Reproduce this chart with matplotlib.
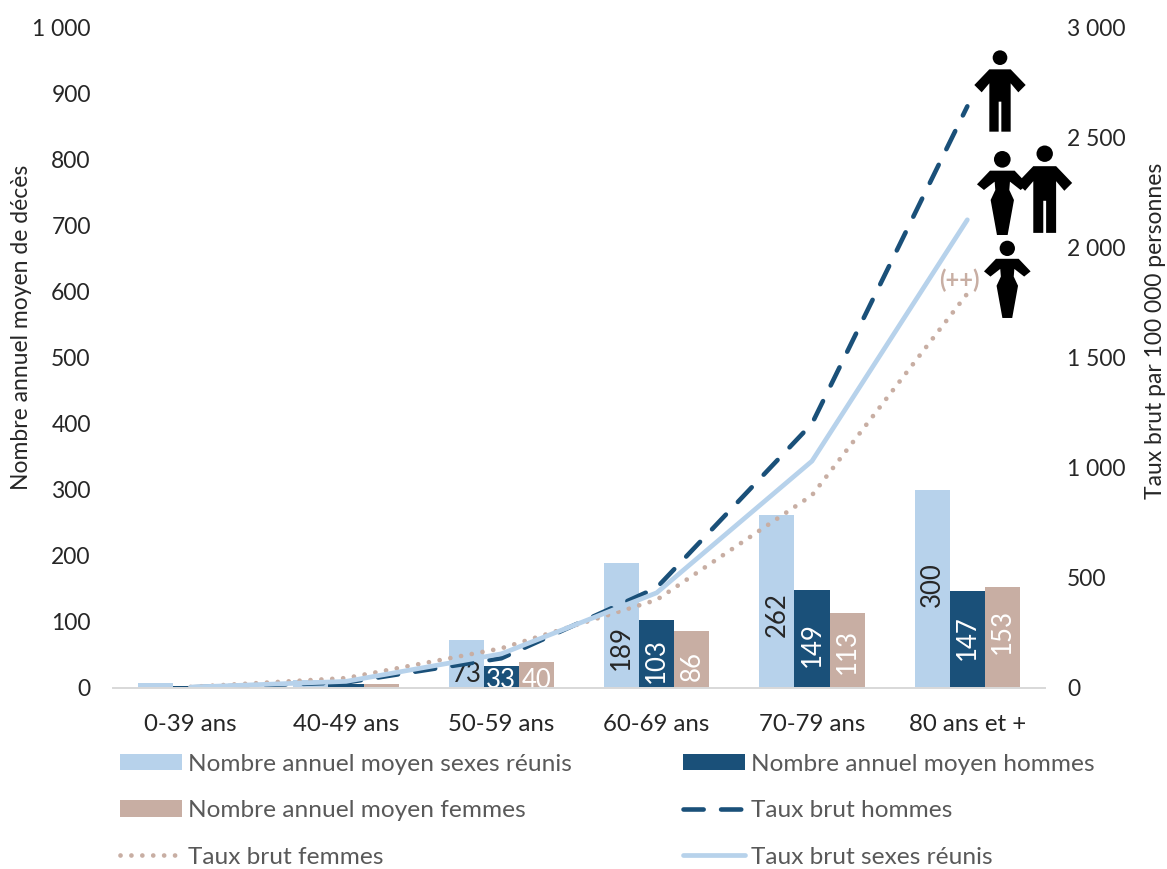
import matplotlib
matplotlib.use("Agg")
import matplotlib.pyplot as plt
from matplotlib.patches import Circle, Polygon
import numpy as np

plt.rcParams['font.family'] = ['Lato', 'DejaVu Sans']

# Data
age_groups = ['0-39 ans', '40-49 ans', '50-59 ans', '60-69 ans', '70-79 ans', '80 ans et +']
deaths_all = [8, 12, 73, 189, 262, 300]
deaths_men = [3, 6, 33, 103, 149, 147]
deaths_women = [1, 6, 40, 86, 113, 153]
rate_men = [3, 25, 135, 455, 1200, 2640]
rate_women = [5, 45, 180, 400, 875, 1790]
rate_all = [4, 30, 155, 432, 1030, 2125]
left_ticks = range(0, 1001, 100)
right_ticks = range(0, 3001, 500)

# Height of each value label's centre above the baseline, in pixels
label_lift_all = [0, 0, 14, 41, 73, 103]
label_lift_men = [0, 0, 8, 27, 43, 50]
label_lift_women = [0, 0, 8, 22, 36, 56]

LIGHT = '#b7d2eb'
NAVY = '#1a5079'
TAN = '#c8aea3'
TEXT = '#262626'
LEGEND_TEXT = '#595959'

W, H = 1167, 869
fig = plt.figure(figsize=(W / 100, H / 100), dpi=100)

# Plot area in pixels
left, right, top, bottom = 113, 1045, 27, 688
ax = fig.add_axes([left / W, 1 - bottom / H, (right - left) / W, (bottom - top) / H])
ax2 = ax.twinx()

x = np.arange(len(age_groups))
bw = 0.226
ax.bar(x - bw, deaths_all, bw, color=LIGHT, label='Nombre annuel moyen sexes réunis')
ax.bar(x, deaths_men, bw, color=NAVY, label='Nombre annuel moyen hommes')
ax.bar(x + bw, deaths_women, bw, color=TAN, label='Nombre annuel moyen femmes')

ax2.plot(x, rate_men, color=NAVY, lw=3.3, ls=(0, (4.4, 3.8)), dash_capstyle='round', label='Taux brut hommes')
ax2.plot(x, rate_women, color=TAN, lw=3.4, ls=(0, (0.01, 2.3)), dash_capstyle='round', label='Taux brut femmes')
ax2.plot(x, rate_all, color=LIGHT, lw=3.4, solid_capstyle='round', label='Taux brut sexes réunis')

# Value labels inside the bars; the three smallest groups stay upright
series = [(-bw, deaths_all, label_lift_all, TEXT),
          (0, deaths_men, label_lift_men, 'white'),
          (bw, deaths_women, label_lift_women, 'white')]
for offs, vals, lifts, col in series:
    for xi, v, lift in zip(x, vals, lifts):
        if v < 30:
            continue
        rot = 90 if v > 80 else 0
        ax.annotate(str(v), (xi + offs, 0), xytext=(0, lift * 0.72), textcoords='offset points',
                    rotation=rot, ha='center', va='center', fontsize=18.5, color=col)

ax.set_xlim(-0.5, 5.5)
ax.set_ylim(0, 1000)
ax2.set_ylim(0, 3000)
ax.set_xticks(x, age_groups)
ax.set_yticks(list(left_ticks), [f'{v:,}'.replace(',', ' ') for v in left_ticks])
ax2.set_yticks(list(right_ticks), [f'{v:,}'.replace(',', ' ') for v in right_ticks])

for a in (ax, ax2):
    for side in ('top', 'left', 'right'):
        a.spines[side].set_visible(False)
    a.spines['bottom'].set_color('#d9d9d9')
    a.spines['bottom'].set_linewidth(1.3)
ax.tick_params(axis='x', length=0, labelsize=17.3, labelcolor=TEXT, pad=18.5)
ax.tick_params(axis='y', length=0, labelsize=16.5, labelcolor=TEXT, pad=16)
ax2.tick_params(axis='y', length=0, labelsize=16.5, labelcolor=TEXT, pad=16)

fig.text(22 / W, 1 - 327 / H, 'Nombre annuel moyen de décès', rotation=90, ha='center', va='center',
         fontsize=16.5, color=TEXT)
fig.text(1156 / W, 1 - 331 / H, 'Taux brut par 100 000 personnes', rotation=90, ha='center', va='center',
         fontsize=16.5, color=TEXT)

# Legend, two columns filled top to bottom
bars_h, bars_l = ax.get_legend_handles_labels()
lines_h, lines_l = ax2.get_legend_handles_labels()
handles = [bars_h[0], bars_h[2], lines_h[1], bars_h[1], lines_h[0], lines_h[2]]
labels = [bars_l[0], bars_l[2], lines_l[1], bars_l[1], lines_l[0], lines_l[2]]
fig.legend(handles, labels, ncol=2, loc='upper left', bbox_to_anchor=(110.3 / W, 1 - 744 / H),
           bbox_transform=fig.transFigure, frameon=False, fontsize=17.6, labelcolor=LEGEND_TEXT,
           handlelength=2.53, handleheight=0.66, handletextpad=0.25, labelspacing=1.04,
           columnspacing=4.55, borderpad=0.4, borderaxespad=0)

# Overlay in pixel coordinates for the pictograms
over = fig.add_axes([0, 0, 1, 1], facecolor='none')
over.set_xlim(0, W)
over.set_ylim(H, 0)
over.axis('off')

MAN = [(-32, 58), (32, 58), (77, 105), (55, 127), (32, 100), (32, 245), (4, 245), (4, 155), (-4, 155),
       (-4, 245), (-32, 245), (-32, 100), (-55, 127), (-77, 105)]
WOMAN = [(-37, 59), (37, 59), (76, 100), (55, 117), (23, 92), (21, 117), (35, 147), (16, 252), (-16, 252),
         (-35, 147), (-21, 117), (-23, 92), (-55, 117), (-76, 100)]


def person(cx, ty, shape, head_y, head_r, scale):
    pts = [(cx + px * scale / 3, ty + py * scale / 3) for px, py in shape]
    over.add_patch(Polygon(pts, closed=True, fc='black', ec='none'))
    over.add_patch(Circle((cx, ty + head_y * scale / 3), head_r * scale / 3, fc='black', ec='none'))


person(1000, 50, MAN, 23, 22, 1.0)
person(1002.3, 151, WOMAN, 25, 25, 1.0)
person(1044.7, 145.5, MAN, 23, 23, 1.07)
person(1007.3, 240.7, WOMAN, 25, 25, 0.92)

over.text(959.7, 280, '(++)', color=TAN, fontsize=17, fontweight='bold', ha='center', va='center')

plt.savefig('out.png', dpi=100)
